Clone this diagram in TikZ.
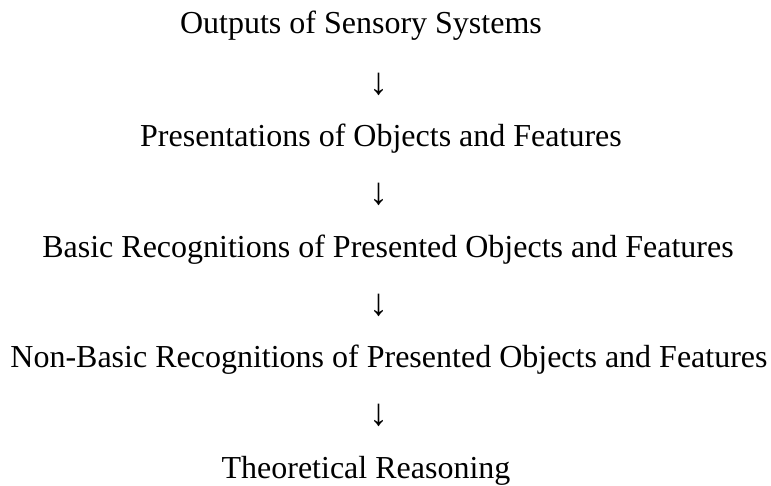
\documentclass[tikz,border=0pt]{standalone}
\usepackage{fontspec}
\setmainfont{Liberation Serif}
\begin{document}
\begin{tikzpicture}[x=1pt,y=-1pt,
  level/.style={anchor=base, inner sep=0pt, font=\fontsize{32}{38}\selectfont},
  down/.style={anchor=base, inner sep=0pt, font=\fontsize{38}{44}\selectfont}]
\useasboundingbox (0,0) rectangle (771,485);
\node[level] (l1) at (361,33)    {Outputs of Sensory Systems};
\node[down]  (a1) at (379,94.5)  {↓};
\node[level] (l2) at (381,146)   {Presentations of Objects and Features};
\node[down]  (a2) at (379,204.5) {↓};
\node[level] (l3) at (388,257)   {Basic Recognitions of Presented Objects and Features};
\node[down]  (a3) at (379,315.5) {↓};
\node[level] (l4) at (389,367)   {Non-Basic Recognitions of Presented Objects and Features};
\node[down]  (a4) at (379,425.5) {↓};
\node[level] (l5) at (366,478)   {Theoretical Reasoning};
\end{tikzpicture}
\end{document}
